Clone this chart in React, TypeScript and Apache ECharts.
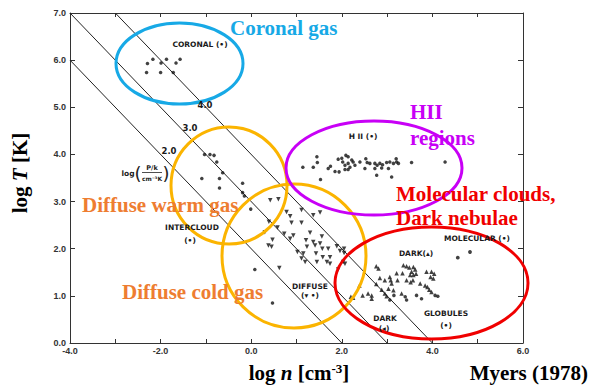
import React, { useEffect, useRef } from "react";
import * as echarts from "echarts";

// ---------- data (log n, log T) ----------
const isobars = [2.0, 3.0, 4.0];
const xTickLabels = ["-4.0", "-2.0", "0.0", "2.0", "4.0", "6.0"];

const coronal = [
  [-2.29, 5.93], [-2.17, 6.02], [-1.99, 5.94], [-1.87, 6.02], [-1.66, 5.94],
  [-1.57, 6.02], [-2.31, 5.74], [-2.0, 5.74], [-1.72, 5.74],
];

const intercloud = [
  [-1.03, 4.0], [-0.91, 4.0], [-0.82, 3.98], [-0.76, 3.84], [-0.63, 3.61],
  [-1.09, 3.49], [-0.7, 3.49], [-0.7, 3.29], [-0.19, 3.39], [-0.19, 3.19],
  [-0.15, 3.12], [-0.01, 2.84], [0.08, 1.56], [0.47, 0.85],
];

const diffuse = [
  [0.42, 3.03], [0.6, 3.05], [0.78, 2.78], [0.86, 2.69], [0.39, 2.57], [0.58, 2.45],
  [0.89, 2.55], [0.3, 2.35], [0.73, 2.32], [0.47, 2.19], [0.86, 2.21], [0.38, 2.07],
  [0.45, 2.04], [1.02, 1.93], [0.62, 1.59], [1.11, 2.82], [1.37, 2.71], [1.52, 2.77],
  [1.11, 2.55], [0.93, 2.28], [1.3, 2.34], [1.21, 2.18], [1.37, 2.14], [1.41, 2.07],
  [1.56, 2.26], [1.52, 2.11], [1.57, 2.0], [1.7, 2.0], [1.23, 2.04], [1.15, 1.9],
  [1.43, 1.9], [1.11, 1.79], [1.19, 1.72], [1.45, 1.72], [1.67, 1.72], [1.74, 1.68],
  [1.89, 2.05], [1.96, 1.95], [2.05, 2.0], [2.05, 1.91], [1.74, 1.82], [1.58, 1.82],
  [2.03, 1.72], [1.92, 1.56], [2.07, 1.68],
];

const dark = [
  [2.76, 1.63], [2.81, 1.58], [2.84, 1.38], [2.95, 1.33], [2.76, 1.25], [2.39, 1.22],
  [2.46, 1.01], [2.66, 1.01], [2.66, 0.94], [2.25, 0.96], [2.2, 0.98], [2.99, 0.99],
  [3.03, 1.15], [3.06, 1.4], [3.08, 1.33], [3.1, 1.26], [3.23, 1.33], [3.21, 1.48],
  [3.34, 1.48], [3.36, 1.65], [3.43, 1.63], [3.49, 1.6], [3.58, 1.61], [3.62, 1.56],
  [3.54, 1.51], [3.51, 1.44], [3.58, 1.44], [3.64, 1.47], [3.43, 1.33], [3.52, 1.29],
  [3.57, 1.33], [3.73, 1.26], [3.84, 1.22], [3.89, 1.19], [3.93, 1.13], [3.98, 1.08],
  [3.87, 1.51], [3.98, 1.51], [4.04, 1.47], [3.96, 1.4], [4.02, 1.37], [3.14, 1.12],
  [3.32, 1.05], [2.88, 1.13], [2.58, 1.05], [2.95, 1.05],
];

const globules = [
  [3.4, 0.98], [3.43, 0.91], [3.65, 1.01], [3.76, 0.94], [4.06, 1.01], [4.12, 0.99],
  [3.06, 0.91], [3.15, 1.01],
];

const molecular = [[4.56, 1.81], [4.83, 1.93]];

const hii = [
  [1.14, 3.73], [1.37, 3.73], [1.46, 3.83], [1.45, 3.95], [1.53, 3.47], [1.7, 3.7],
  [1.75, 3.75], [1.85, 3.64], [1.94, 3.63], [1.92, 3.9], [2.0, 3.92], [2.09, 3.98],
  [2.14, 3.95], [2.02, 3.84], [2.07, 3.77], [2.14, 3.81], [2.18, 3.73], [2.25, 3.84],
  [2.22, 3.88], [2.29, 3.77], [2.14, 3.68], [2.07, 3.68], [2.4, 3.84], [2.53, 3.91],
  [2.56, 3.83], [2.62, 3.81], [2.51, 3.7], [2.73, 3.81], [2.78, 3.77], [2.84, 3.81],
  [2.9, 3.78], [2.99, 3.83], [3.06, 3.84], [3.14, 3.81], [3.21, 3.84], [3.2, 3.91],
  [3.25, 3.81], [2.77, 3.56], [3.1, 3.52], [3.03, 3.7], [2.88, 3.71], [3.54, 3.83],
  [4.28, 3.84], [2.73, 3.7],
];

const X_MIN = -4, X_MAX = 6, Y_MIN = 0, Y_MAX = 7;

const serif = "Liberation Serif";
const sans = "Liberation Sans";

function isobarLine(p: number) {
  const x0 = Math.max(X_MIN, p - Y_MAX);
  const x1 = Math.min(X_MAX, p - Y_MIN);
  return [[x0, p - x0], [x1, p - x1]];
}

function scatter(name: string, data: number[][], symbol: string, size: number, rotate = 0) {
  return {
    name, type: "scatter", data, symbol, symbolSize: size, symbolRotate: rotate,
    itemStyle: { color: "#111" }, silent: true, z: 3,
  };
}

function bigText(x: number, y: number, text: string, color: string, align = "left", size = 21) {
  return {
    type: "text", x, y, z: 20,
    style: { text, fill: color, font: `bold ${size}px "${serif}"`, align, verticalAlign: "middle" },
  };
}

function smallText(x: number, y: number, text: string, size = 7.5) {
  return {
    type: "text", x, y, z: 15,
    style: { text, fill: "#1a1a1a", font: `bold ${size}px "DejaVu Sans"`, align: "center", verticalAlign: "middle" },
  };
}

function ring(cx: number, cy: number, rx: number, ry: number, color: string) {
  return {
    type: "ellipse", z: 12, silent: true,
    shape: { cx, cy, rx, ry },
    style: { fill: "none", stroke: color, lineWidth: 3 },
  };
}

export default function App() {
  const ref = useRef<HTMLDivElement>(null);
  useEffect(() => {
    if (!ref.current) return;
    const chart = echarts.init(ref.current, null, { renderer: "svg" });
    const axisLineStyle = { color: "#333", width: 1 };
    const BLUE = "#17a9e6", ORANGE_T = "#ee7d31", GOLD = "#fbb400", PURPLE = "#c800f6", RED = "#f00000";
    chart.setOption({
      animation: false,
      backgroundColor: "#fff",
      grid: { left: 70, right: 67, top: 13, bottom: 44 },
      xAxis: [
        {
          type: "value", min: X_MIN, max: X_MAX, interval: 1, position: "bottom",
          axisLine: { show: true, onZero: false, lineStyle: axisLineStyle },
          axisTick: { show: true, inside: true, length: 4, lineStyle: axisLineStyle },
          axisLabel: {
            formatter: (v: number) => {
              const s = v.toFixed(1);
              return xTickLabels.includes(s) ? s : "";
            },
            fontSize: 9, fontWeight: "bold", color: "#333", fontFamily: sans, margin: 3,
          },
          splitLine: { show: false },
        },
        {
          type: "value", min: X_MIN, max: X_MAX, interval: 1, position: "top",
          axisLine: { show: true, onZero: false, lineStyle: axisLineStyle },
          axisTick: { show: true, inside: true, length: 4, lineStyle: axisLineStyle },
          axisLabel: { show: false }, splitLine: { show: false },
        },
      ],
      yAxis: [
        {
          type: "value", min: Y_MIN, max: Y_MAX, interval: 1, position: "left",
          axisLine: { show: true, onZero: false, lineStyle: axisLineStyle },
          axisTick: { show: true, inside: true, length: 5, lineStyle: axisLineStyle },
          axisLabel: { formatter: (v: number) => v.toFixed(1), fontSize: 9, fontWeight: "bold", color: "#333", fontFamily: sans, margin: 4 },
          splitLine: { show: false },
        },
        {
          type: "value", min: Y_MIN, max: Y_MAX, interval: 1, position: "right",
          axisLine: { show: true, onZero: false, lineStyle: axisLineStyle },
          axisTick: { show: true, inside: true, length: 5, lineStyle: axisLineStyle },
          axisLabel: { show: false }, splitLine: { show: false },
        },
      ],
      series: [
        ...isobars.map((p) => ({
          name: `P${p}`, type: "line", data: isobarLine(p), symbol: "none", silent: true,
          lineStyle: { color: "#222", width: 1 }, z: 2,
        })),
        scatter("coronal", coronal, "circle", 3.5),
        scatter("intercloud", intercloud, "circle", 3.5),
        scatter("diffuse", diffuse, "triangle", 4.5, 180),
        scatter("dark", dark, "triangle", 4.5),
        scatter("globules", globules, "circle", 3.5),
        scatter("molecular", molecular, "circle", 3.8),
        scatter("hii", hii, "circle", 3.5),
      ],
      graphic: [
        // isobar labels
        smallText(205, 105, "4.0", 8.5),
        smallText(190, 128, "3.0", 8.5),
        smallText(169, 151, "2.0", 8.5),
        smallText(128, 173, "log", 7.5),
        { type: "text", x: 138, y: 173, z: 15, style: { text: "(", fill: "#222", font: `18px "DejaVu Sans"`, align: "center", verticalAlign: "middle" } },
        smallText(152, 167.5, "P/k", 6.5),
        { type: "line", z: 15, shape: { x1: 142, y1: 172.5, x2: 162, y2: 172.5 }, style: { stroke: "#222", lineWidth: 0.8 } },
        smallText(152, 178, "cm⁻³K", 6),
        { type: "text", x: 166, y: 173, z: 15, style: { text: ")", fill: "#222", font: `18px "DejaVu Sans"`, align: "center", verticalAlign: "middle" } },
        // original figure labels
        smallText(200, 44, "CORONAL (•)"),
        smallText(363, 136, "H II (•)"),
        smallText(192, 227, "INTERCLOUD"),
        smallText(190, 240, "(•)"),
        smallText(310, 286, "DIFFUSE"),
        smallText(310, 295, "(▾ •)"),
        smallText(416, 253, "DARK(▴)"),
        smallText(477, 238, "MOLECULAR (•)"),
        smallText(385, 318, "DARK"),
        smallText(384, 328, "(◂)"),
        smallText(446, 313, "GLOBULES"),
        smallText(446, 325, "(•)"),
        // highlight ellipses
        ring(179.5, 63.5, 63.5, 40.5, BLUE),
        ring(229, 185.5, 58, 58.5, GOLD),
        ring(294, 256, 72, 72, GOLD),
        ring(374, 168, 88, 47, PURPLE),
        ring(431.5, 283, 96.5, 56, RED),
        // overlay titles
        bigText(230, 28, "Coronal gas", BLUE),
        bigText(410, 112, "HII", PURPLE),
        bigText(410, 138, "regions", PURPLE),
        bigText(396, 194, "Molecular clouds,", RED),
        bigText(396, 218, "Dark nebulae", RED),
        bigText(82, 205, "Diffuse warm gas", ORANGE_T),
        bigText(122, 292, "Diffuse cold gas", ORANGE_T),
        // axis titles
        {
          type: "text", x: 20, y: 173, rotation: Math.PI / 2, z: 20,
          style: {
            text: "{n|log }{i|T}{n| [K]}", align: "center", verticalAlign: "middle",
            rich: {
              n: { fill: "#000", fontFamily: serif, fontWeight: "bold", fontSize: 21 },
              i: { fill: "#000", fontFamily: serif, fontWeight: "bold", fontStyle: "italic", fontSize: 21 },
            },
          },
        },
        {
          type: "text", x: 299, y: 373, z: 20,
          style: {
            text: "{n|log }{i|n}{n| [cm}{s|-3}{n|]}", align: "center", verticalAlign: "middle",
            rich: {
              n: { fill: "#000", fontFamily: serif, fontWeight: "bold", fontSize: 21 },
              i: { fill: "#000", fontFamily: serif, fontWeight: "bold", fontStyle: "italic", fontSize: 21 },
              s: { fill: "#000", fontFamily: serif, fontWeight: "bold", fontSize: 13, padding: [0, 0, 10, 0] },
            },
          },
        },
        bigText(588, 373, "Myers (1978)", "#000", "right"),
      ],
    });
    return () => chart.dispose();
  }, []);
  return (
    <div
      ref={ref}
      style={{ position: "fixed", left: 0, top: 0, width: 590, height: 387, background: "#fff" }}
    />
  );
}
